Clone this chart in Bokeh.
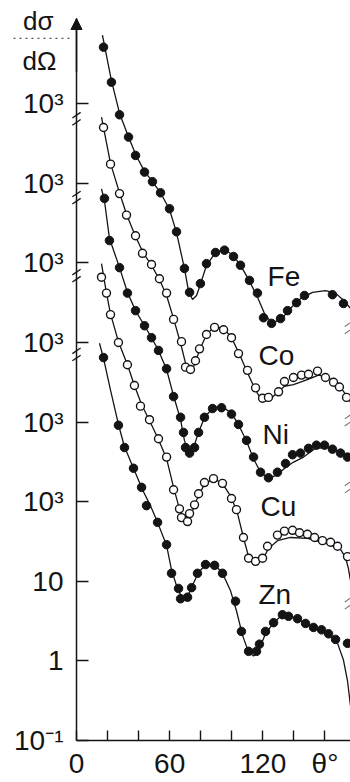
import numpy as np
from bokeh.plotting import figure
from bokeh.models import FixedTicker, Arrow, NormalHead, Range1d, LinearAxis, LogAxis
from bokeh.core.properties import value
from bokeh.embed import file_html
from bokeh.resources import INLINE

# ---- data: scattering angle (deg) and log10 of the plotted cross section (curves offset as in figure)
fe_pts_theta = [17.4, 22.5, 27.7, 33.5, 38.0, 43.8, 48.9, 54.1, 59.9, 64.4, 69.5, 72.8, 79.8, 83.7, 89.5, 95.3,
                101.1, 105.6, 111.4, 116.5, 120.4, 125.6, 131.4, 135.9, 141.7, 146.8, 164.8, 171.9]
fe_pts_log = [7.71, 7.27, 6.86, 6.58, 6.35, 6.14, 6.02, 5.88, 5.68, 5.39, 4.93, 4.63, 4.74, 4.99, 5.13, 5.16,
              5.08, 4.97, 4.78, 4.62, 4.31, 4.24, 4.30, 4.40, 4.50, 4.59, 4.60, 4.49]
fe_fit_theta = [16.7, 22.5, 27.7, 33.5, 38.6, 43.8, 48.9, 54.1, 59.9, 64.4, 69.5, 72.1, 74.7, 77.3, 79.8, 83.7,
                89.5, 95.3, 101.1, 106.2, 111.4, 116.5, 121.1, 125.6, 131.4, 137.8, 144.2, 152.0, 160.3, 166.8,
                171.9, 176.4]
fe_fit_log = [7.86, 7.29, 6.88, 6.58, 6.34, 6.15, 6.02, 5.88, 5.67, 5.38, 4.93, 4.65, 4.54, 4.59, 4.73, 4.97,
              5.13, 5.17, 5.09, 4.95, 4.77, 4.57, 4.36, 4.25, 4.28, 4.43, 4.55, 4.63, 4.65, 4.62, 4.53, 4.43]

co_pts_theta = [17.4, 21.9, 27.7, 32.2, 38.0, 42.5, 48.3, 53.4, 58.0, 62.5, 67.6, 70.2, 73.4, 76.6, 79.2, 83.7,
                88.9, 94.7, 99.8, 104.3, 110.1, 115.3, 119.8, 123.6, 130.1, 133.9, 139.7, 144.9, 149.4, 155.2,
                160.3, 165.5, 169.3, 173.9]
co_pts_log = [6.70, 6.24, 5.87, 5.60, 5.34, 5.12, 4.98, 4.80, 4.62, 4.29, 4.01, 3.69, 3.66, 3.77, 3.92, 4.10,
              4.19, 4.16, 4.06, 3.86, 3.65, 3.43, 3.30, 3.31, 3.38, 3.51, 3.56, 3.59, 3.60, 3.64, 3.56, 3.50,
              3.44, 3.31]
co_fit_theta = [16.1, 17.4, 21.9, 27.7, 32.2, 38.0, 43.1, 48.3, 53.4, 58.0, 62.5, 67.0, 70.2, 72.8, 75.3, 79.2,
                83.7, 88.9, 94.7, 99.8, 105.0, 110.1, 115.3, 119.8, 123.6, 128.8, 133.9, 139.7, 145.5, 150.7,
                155.8, 161.6, 166.8, 170.6, 175.1, 176.4]
co_fit_log = [6.83, 6.70, 6.25, 5.88, 5.61, 5.33, 5.12, 4.97, 4.79, 4.59, 4.30, 3.99, 3.74, 3.64, 3.69, 3.90,
              4.10, 4.20, 4.18, 4.06, 3.85, 3.62, 3.40, 3.26, 3.27, 3.36, 3.45, 3.47, 3.51, 3.55, 3.59, 3.56,
              3.51, 3.42, 3.30, 3.25]

ni_pts_theta = [18.0, 21.2, 27.7, 32.8, 38.0, 43.8, 48.3, 52.8, 58.0, 62.5, 67.0, 68.9, 70.2, 72.8, 76.0, 78.6,
                82.4, 87.6, 93.4, 99.8, 104.3, 109.5, 114.0, 118.5, 123.6, 129.4, 134.6, 139.1, 144.2, 149.4,
                154.5, 159.7, 164.8, 170.0, 174.5]
ni_pts_log = [5.81, 5.28, 4.94, 4.62, 4.40, 4.21, 4.06, 3.90, 3.67, 3.32, 3.06, 2.87, 2.68, 2.61, 2.68, 2.87,
              3.06, 3.17, 3.18, 3.10, 2.97, 2.77, 2.56, 2.37, 2.30, 2.37, 2.48, 2.59, 2.61, 2.67, 2.71, 2.71,
              2.66, 2.61, 2.56]
ni_fit_theta = [16.1, 18.0, 21.2, 27.7, 32.8, 38.0, 43.8, 48.3, 52.8, 58.0, 62.5, 67.0, 69.5, 72.1, 74.7, 77.9,
                82.4, 87.6, 93.4, 99.8, 104.3, 109.5, 114.0, 118.5, 123.6, 129.4, 134.6, 139.1, 146.2, 153.9,
                161.6, 168.1, 171.9, 176.4]
ni_fit_log = [5.93, 5.78, 5.31, 4.94, 4.63, 4.40, 4.21, 4.06, 3.90, 3.66, 3.33, 3.03, 2.77, 2.62, 2.64, 2.83,
              3.06, 3.17, 3.20, 3.11, 2.97, 2.76, 2.54, 2.37, 2.29, 2.34, 2.43, 2.49, 2.56, 2.67, 2.68, 2.64,
              2.61, 2.52]

cu_pts_theta = [16.1, 19.3, 21.9, 27.0, 32.8, 37.3, 41.2, 47.0, 52.8, 58.0, 62.5, 66.3, 67.6, 71.5, 72.8, 76.0,
                78.6, 82.4, 88.2, 94.0, 99.8, 103.0, 107.5, 110.8, 115.3, 119.8, 123.0, 129.4, 133.9, 139.1,
                143.6, 148.7, 153.3, 158.4, 163.6, 168.1, 174.5]
cu_pts_log = [4.82, 4.62, 4.35, 4.00, 3.72, 3.46, 3.20, 3.03, 2.79, 2.56, 2.15, 1.91, 1.80, 1.75, 1.85, 1.96,
              2.10, 2.24, 2.29, 2.23, 2.04, 1.90, 1.55, 1.29, 1.25, 1.29, 1.44, 1.58, 1.63, 1.64, 1.61, 1.59,
              1.55, 1.51, 1.49, 1.44, 1.31]
cu_fit_theta = [16.1, 19.3, 21.9, 27.0, 32.8, 37.3, 41.9, 47.0, 52.8, 58.0, 62.5, 66.3, 68.9, 71.5, 74.1, 77.3,
                82.4, 88.2, 94.0, 99.8, 103.7, 107.5, 110.8, 115.3, 119.8, 123.6, 129.4, 137.8, 148.7, 161.6,
                170.0, 173.2, 175.1, 176.4]
cu_fit_log = [4.99, 4.62, 4.36, 4.01, 3.72, 3.46, 3.22, 3.02, 2.78, 2.54, 2.18, 1.91, 1.76, 1.74, 1.85, 2.02,
              2.22, 2.29, 2.23, 2.05, 1.85, 1.55, 1.31, 1.22, 1.27, 1.41, 1.51, 1.55, 1.54, 1.47, 1.40, 1.30,
              1.16, 1.01]

zn_pts_theta = [17.4, 27.0, 30.9, 36.7, 41.9, 45.1, 52.2, 58.0, 61.2, 65.7, 67.0, 71.5, 74.1, 77.9, 83.1, 88.9,
                94.0, 102.4, 106.2, 110.8, 115.9, 117.8, 121.7, 126.9, 132.6, 136.5, 142.3, 147.5, 152.6, 157.8,
                162.3, 166.8, 174.5]
zn_pts_log = [3.81, 2.96, 2.68, 2.42, 2.18, 1.95, 1.74, 1.46, 1.10, 0.91, 0.78, 0.80, 0.92, 1.10, 1.21, 1.20,
              1.10, 0.75, 0.37, 0.12, 0.12, 0.21, 0.37, 0.48, 0.58, 0.56, 0.53, 0.47, 0.42, 0.39, 0.34, 0.27,
              0.22]
zn_fit_theta = [14.8, 17.4, 21.9, 27.0, 30.9, 36.7, 42.5, 47.6, 52.2, 58.0, 61.2, 65.0, 68.3, 71.5, 74.7, 78.6,
                83.1, 88.9, 94.0, 99.2, 103.0, 106.9, 110.8, 114.0, 117.2, 121.7, 126.9, 132.6, 139.1, 147.5,
                157.1, 163.6, 168.1, 171.9, 174.5, 176.4]
zn_fit_log = [3.99, 3.80, 3.40, 2.97, 2.69, 2.42, 2.15, 1.95, 1.74, 1.45, 1.14, 0.91, 0.78, 0.81, 0.95, 1.11,
              1.21, 1.21, 1.10, 0.88, 0.63, 0.32, 0.11, 0.06, 0.13, 0.34, 0.48, 0.58, 0.55, 0.47, 0.38, 0.31,
              0.22, 0.01, -0.25, -0.56]

element_names = ["Fe", "Co", "Ni", "Cu", "Zn"]
element_label_theta = [123.0, 117.2, 119.8, 118.5, 117.2]
element_label_log = [4.83, 3.83, 2.85, 1.94, 0.83]

y_tick_values = [0.1, 1, 10, 100, 1e3, 1e4, 1e5, 1e6, 1e7]
y_tick_labels = ["10⁻¹", "1", "10", "10³", "10³", "10³", "10³", "10³", "10³"]
x_tick_values = [0, 20, 40, 60, 80, 100, 120, 140, 160]
x_tick_labels = ["0", "", "", "60", "", "", "120", "", "θ°"]

axis_break_log = [6.81, 5.82, 4.84, 3.85]          # break marks on the left axis
edge_break_theta = 174.6
edge_break_log = [4.18, 3.02, 2.18, 0.72]          # break marks near the right edge

# y-axis title (fraction dσ / dΩ) placed left of the axis
title_top_text, title_bottom_text = "dσ", "dΩ"
title_theta, title_top_log, title_bottom_log = -34.4, 8.04, 7.54
title_rule_theta = (-40.6, -3.9)
title_rule_log = 7.82

INK = "#141414"
FONT = "Liberation Sans"
X_MIN, X_MAX = -48.94, 176.43          # whole canvas width is the frame
L_MIN, L_MAX = -1.528, 8.296           # whole canvas height is the frame (log10 units)
AXIS_TOP = 8.07
BREAK_GAP = 0.045                      # vertical gap (decades) between the two strokes of a break mark

p = figure(width=350, height=782, x_range=Range1d(X_MIN, X_MAX), y_range=Range1d(10 ** L_MIN, 10 ** L_MAX),
           y_axis_type="log", x_axis_location=None, y_axis_location=None,
           output_backend="svg", toolbar_location=None,
           min_border_left=0, min_border_right=0, min_border_top=0, min_border_bottom=0)
p.outline_line_color = None
p.xgrid.visible = False
p.ygrid.visible = False
p.background_fill_color = "white"
p.border_fill_color = "white"

yaxis = LogAxis(fixed_location=0, bounds=(0.1, 10 ** AXIS_TOP),
                ticker=FixedTicker(ticks=y_tick_values, minor_ticks=[]))
yaxis.major_label_overrides = {v: s for v, s in zip(y_tick_values, y_tick_labels)}
xaxis = LinearAxis(fixed_location=0.1, bounds=(0, X_MAX),
                   ticker=FixedTicker(ticks=x_tick_values, minor_ticks=[]))
xaxis.major_label_overrides = {v: s for v, s in zip(x_tick_values, x_tick_labels)}

for ax in (xaxis, yaxis):
    ax.axis_line_color = INK
    ax.axis_line_width = 1.5
    ax.major_tick_line_color = INK
    ax.major_tick_line_width = 1.4
    ax.major_tick_out = 0
    ax.minor_tick_line_color = None
    ax.major_label_text_font = FONT
    ax.major_label_text_font_size = "28px"
    ax.major_label_text_color = INK
yaxis.major_tick_in = 12
yaxis.major_label_standoff = 13
xaxis.major_tick_in = 10
xaxis.major_label_standoff = 8
p.add_layout(yaxis, "left")
p.add_layout(xaxis, "below")

filled = {"fill_color": INK, "line_color": INK, "size": 8.5}
hollow = {"fill_color": "white", "line_color": INK, "line_width": 1.4, "size": 8}

series = [
    (fe_fit_theta, fe_fit_log, fe_pts_theta, fe_pts_log, filled),
    (co_fit_theta, co_fit_log, co_pts_theta, co_pts_log, hollow),
    (ni_fit_theta, ni_fit_log, ni_pts_theta, ni_pts_log, filled),
    (cu_fit_theta, cu_fit_log, cu_pts_theta, cu_pts_log, hollow),
    (zn_fit_theta, zn_fit_log, zn_pts_theta, zn_pts_log, filled),
]
for ft, fl, pt, pl, style in series:
    p.line(ft, 10 ** np.array(fl), line_color=INK, line_width=1.3)
for ft, fl, pt, pl, style in series:
    p.scatter(pt, 10 ** np.array(pl), marker="circle", **style)

p.text(x=element_label_theta, y=list(10 ** np.array(element_label_log)), text=element_names,
       text_font=value(FONT), text_font_size="28px", text_color=INK,
       text_align="left", text_baseline="alphabetic")

# y-axis title
p.text(x=[title_theta, title_theta - 0.4], y=[10 ** title_top_log, 10 ** title_bottom_log],
       text=[title_top_text, title_bottom_text], text_font=value(FONT), text_font_size="26px",
       text_color=INK, text_align="left", text_baseline="alphabetic")
p.add_layout(Arrow(end=None, x_start=title_rule_theta[0], y_start=10 ** title_rule_log,
                   x_end=title_rule_theta[1], y_end=10 ** title_rule_log,
                   line_color="#555555", line_width=1.2, line_dash="dotted"))

# axis arrow
p.add_layout(Arrow(end=NormalHead(size=11, fill_color=INK, line_color=INK),
                   x_start=0, y_start=10 ** 7.4, x_end=0, y_end=10 ** AXIS_TOP,
                   line_color=INK, line_width=1.5))

# axis break marks: two short slanted strokes each
bl = np.array(axis_break_log)
p.scatter(x=[0] * (2 * len(bl)), y=list(10 ** np.concatenate([bl + BREAK_GAP, bl - BREAK_GAP])),
          marker="dash", size=10, angle=0.6, line_color=INK, line_width=1.3)
el = np.array(edge_break_log)
p.scatter(x=[edge_break_theta] * (2 * len(el)), y=list(10 ** np.concatenate([el + BREAK_GAP, el - BREAK_GAP])),
          marker="dash", size=7, angle=0.6, line_color="#777777", line_width=1.1)

open("out.html", "w").write(file_html(p, INLINE))
